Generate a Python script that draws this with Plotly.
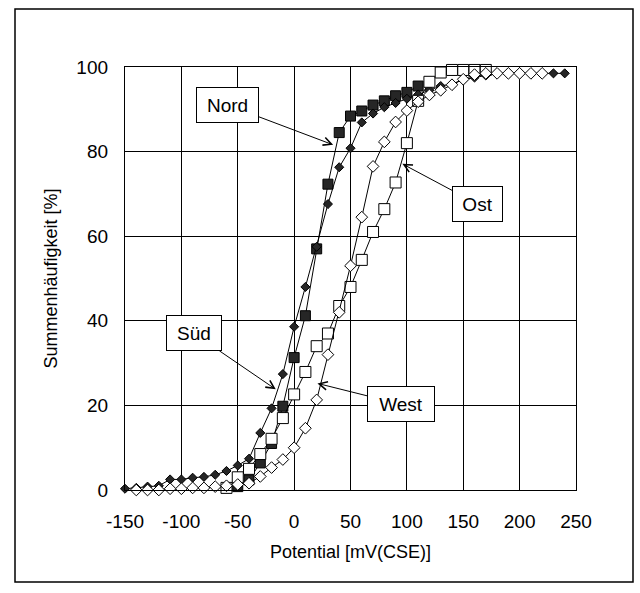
import plotly.graph_objects as go

# Cumulative frequency of measured potentials per site
nord_x = [-50, -40, -30, -20, -10, 0, 10, 20, 30, 40, 50, 60, 70, 80, 90, 100, 110]
nord_y = [0.8, 2.4, 6.4, 11.0, 19.8, 31.3, 41.2, 57.0, 72.3, 84.5, 88.4, 89.6, 91.0, 92.0, 93.2, 94.0, 95.5]

sued_x = list(range(-150, 250, 10))
sued_y = [0.3, 0.5, 0.8, 1.0, 2.5, 2.5, 2.9, 3.1, 3.6, 4.5, 5.8, 7.4, 13.5, 19.3, 27.4, 38.6,
          48.0, 57.5, 67.6, 76.3, 80.8, 86.9, 89.0, 90.5, 91.5, 92.5, 93.5, 94.5, 95.5, 96.0,
          97.0, 97.5, 98.0, 98.5, 98.5, 98.5, 98.5, 98.5, 98.5, 98.5]

ost_x = list(range(-60, 180, 10))
ost_y = [0.5, 3.0, 5.0, 8.5, 12.1, 17.0, 22.6, 27.9, 34.0, 37.0, 43.5, 48.0, 54.4, 61.0, 66.4,
         72.7, 82.0, 92.0, 96.5, 98.7, 99.3, 99.3, 99.3, 99.3]

west_x = list(range(-140, 230, 10))
west_y = [0.0, 0.0, 0.0, 0.3, 0.3, 0.5, 0.5, 0.8, 1.0, 1.3, 1.6, 3.2, 5.3, 7.2, 10.0, 14.6,
          21.3, 32.0, 42.0, 53.0, 64.5, 76.5, 82.3, 87.0, 89.7, 91.8, 93.4, 94.5, 95.8, 97.1,
          98.2, 98.5, 98.5, 98.5, 98.5, 98.5, 98.5]

x_ticks = [-150, -100, -50, 0, 50, 100, 150, 200, 250]
x_ticktext = ["-150", "-100", "-50", "0", "50", "100", "150", "200", "250"]
y_ticks = [0, 20, 40, 60, 80, 100]

# Callout labels: (text, tip x, tip y, box offset px x, box offset px y, box width)
callouts = [
    ("Nord", 34.6, 81.6, -106, -40, 55),
    ("Süd", -16.3, 23.8, -82, -56, 48),
    ("Ost", 96.0, 77.1, 75, 40, 43),
    ("West", 20.7, 25.2, 84, 21, 60),
]

FONT = "Arial, Liberation Sans, sans-serif"
DARK = "#262626"

fig = go.Figure()

fig.add_trace(go.Scatter(
    x=nord_x, y=nord_y, mode="lines+markers", name="Nord",
    line=dict(color="black", width=1),
    marker=dict(symbol="square", size=10, color=DARK, line=dict(color="black", width=1)),
    cliponaxis=False))
fig.add_trace(go.Scatter(
    x=sued_x, y=sued_y, mode="lines+markers", name="Süd",
    line=dict(color="black", width=1),
    marker=dict(symbol="diamond", size=7, color=DARK, line=dict(color="black", width=1)),
    cliponaxis=False))
fig.add_trace(go.Scatter(
    x=ost_x, y=ost_y, mode="lines+markers", name="Ost",
    line=dict(color="black", width=1),
    marker=dict(symbol="square", size=11, color="white", line=dict(color="black", width=1)),
    cliponaxis=False))
fig.add_trace(go.Scatter(
    x=west_x, y=west_y, mode="lines+markers", name="West",
    line=dict(color="black", width=1),
    marker=dict(symbol="diamond", size=9, color="white", line=dict(color="black", width=1)),
    cliponaxis=False))

for text, tx, ty, axp, ayp, w in callouts:
    fig.add_annotation(
        x=tx, y=ty, xref="x", yref="y", text=text,
        showarrow=True, ax=axp, ay=ayp, axref="pixel", ayref="pixel",
        arrowhead=5, arrowsize=1.6, arrowwidth=1, arrowcolor="black",
        font=dict(family=FONT, size=19, color="black"),
        bgcolor="white", bordercolor="black", borderwidth=1, borderpad=3,
        width=w, height=28)

# Plot area in pixels: left 125, right 576, top 67, bottom 490
W, H = 640, 593
L, R, T, B = 125, 64, 67, 103
pw, ph = W - L - R, H - T - B


def px_to_paper(px, py):
    return (px - L) / pw, (H - B - py) / ph


fx0, fy0 = px_to_paper(15, 582)
fx1, fy1 = px_to_paper(633, 9)
fig.add_shape(type="rect", xref="paper", yref="paper",
              x0=fx0, y0=fy0, x1=fx1, y1=fy1,
              line=dict(color="black", width=1.5), layer="below")

axis_common = dict(
    showgrid=True, gridcolor="black", gridwidth=1.2,
    showline=True, linecolor="black", linewidth=1.3, mirror=True,
    zeroline=False, ticks="",
    tickfont=dict(family=FONT, size=19, color="black"),
)

fig.update_xaxes(range=[-150, 250], tickvals=x_ticks, ticktext=x_ticktext, ticklabelstandoff=14,
                 title=dict(text="Potential [mV(CSE)]", standoff=14,
                            font=dict(family=FONT, size=18, color="black")),
                 **axis_common)
fig.update_yaxes(range=[0, 100], tickvals=y_ticks, ticklabelstandoff=12,
                 title=dict(text="Summenhäufigkeit [%]", standoff=14,
                            font=dict(family=FONT, size=18, color="black")),
                 **axis_common)

fig.update_layout(
    width=W, height=H,
    margin=dict(l=L, r=R, t=T, b=B),
    paper_bgcolor="white", plot_bgcolor="white",
    showlegend=False,
    font=dict(family=FONT, color="black"),
)

fig.write_html("out.html")
